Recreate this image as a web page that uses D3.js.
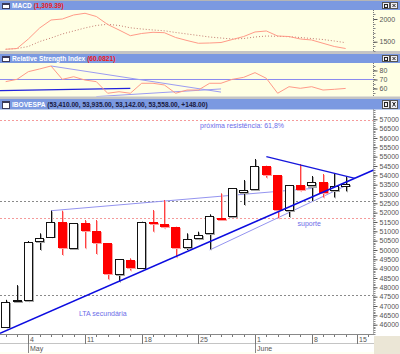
<!DOCTYPE html>
<html>
<head>
<meta charset="utf-8">
<script src="https://cdn.jsdelivr.net/npm/d3@7"></script>
<style>
    body { margin: 0; background: #fff; }
    svg { display: block; font-family: "Liberation Sans", Arial, sans-serif; }
</style>
</head>
<body>
<div id="chart"></div>
<script>

// ---- data ----
const dates = ["Apr 29", "Apr 30",
    "May 4", "May 5", "May 6", "May 7", "May 8",
    "May 11", "May 12", "May 13", "May 14", "May 15",
    "May 18", "May 19", "May 20", "May 21", "May 22",
    "May 25", "May 26", "May 27", "May 28", "May 29",
    "Jun 1", "Jun 2", "Jun 3", "Jun 4", "Jun 5",
    "Jun 8", "Jun 9", "Jun 10", "Jun 12"];
const emptySlots = ["Jun 15", "Jun 16"];

const open  = [45850, 47250, 47280, 50412, 50680, 51515, 50053, 51430, 51017, 50358, 48660, 49464, 49019, 51515, 51392, 51247,
    50090, 50573, 50856, 51713, 51783, 53036, 53213, 54515, 54017, 52115, 53481, 53390, 53626, 53160, 53410];
const high  = [47330, 48120, 50480, 50894, 52104, 52104, 51430, 51606, 51606, 50358, 49501, 49555, 51515, 52142, 52678, 51247,
    50894, 50980, 51912, 53036, 53320, 53749, 54874, 54515, 54017, 53481, 54606, 53963, 54070, 54124, 53935];
const low   = [45850, 47250, 47250, 50000, 50680, 49732, 50053, 50090, 49785, 48430, 48301, 48900, 49019, 50980, 51162, 49608,
    50000, 50573, 50037, 51650, 51783, 52410, 53213, 53872, 51697, 51767, 53150, 52624, 52811, 52811, 53142];
const close = [47230, 47300, 50440, 50626, 51515, 50090, 51430, 51017, 50358, 48714, 49501, 49019, 51515, 51392, 51247, 50090,
    50573, 50803, 51821, 51680, 53320, 53213, 54515, 54017, 52142, 53481, 53213, 53626, 53052, 53410, 53558];

const macdLine   = [1333, 1350, 1559, 1802, 1978, 2000, 2088, 2126, 2055, 1879, 1758, 1632, 1681, 1707, 1698, 1592,
    1526, 1465, 1471, 1482, 1548, 1614, 1714, 1736, 1625, 1614, 1559, 1537, 1465, 1394, 1350];
const macdSignal = [1333, 1350, 1394, 1504, 1581, 1670, 1736, 1802, 1857, 1883, 1857, 1806, 1780, 1758, 1740, 1703,
    1670, 1637, 1603, 1581, 1559, 1570, 1603, 1625, 1619, 1610, 1592, 1570, 1548, 1515, 1478];
const macdTitleValue = "1,309.39";

const rsiValues = [67.6, 70.2, 78.7, 81.7, 85, 70.2, 73.1, 69.4, 67.6, 54.7, 56.4, 54.7, 65.8, 65.8, 63.9, 54.7,
    58.3, 58.3, 65.8, 65.8, 70.2, 72.4, 77.6, 71.3, 54.7, 62, 60.2, 62, 58.3, 59.1, 60.0821];

// axis ticks
const weekTicks  = ["May 4", "May 11", "May 18", "May 25", "Jun 1", "Jun 8", "Jun 15"];
const weekLabels = ["4", "11", "18", "25", "1", "8", "15"];
const monthTicks  = ["May 4", "Jun 1"];
const monthLabels = ["May", "June"];
const priceTicks = [46000, 46500, 47000, 47500, 48000, 48500, 49000, 49500, 50000, 50500, 51000, 51500,
    52000, 52500, 53000, 53500, 54000, 54500, 55000, 55500, 56000, 56500, 57000];
const macdTicks = [1500, 2000];
const rsiTicks = [60, 70, 80];

// drawn studies: [slot index, value]
const ltaLine       = [[-0.5, 45540], [32.47, 54284]];
const resistLine    = [[4, 52104], [27, 53294]];
const triangleTop   = [[23, 55000], [30.82, 53840]];
const supportLine   = [[18, 50000], [30.3, 53524]];
const fiboLevels    = [56960, 51700];
const dottedLevels  = [52600, 47600];
const rsiLevel      = 70;
const rsiDownLine   = [[4, 85], [19, 56]];
const rsiUpLine     = [[8, 51], [19, 59.5]];
const rsiBaseLine   = [[-0.5, 57.6], [11, 60.2]];

// ---- layout ----
const W = 400, H = 354;
const axisX = 373.5;
const barColor = "#7b99e1";
const paleYellow = "#ffffe4";

const slots = dates.concat(emptySlots);
const x = d3.scaleLinear().domain([-0.5, slots.length - 0.5]).range([0, 374]);
const slotX = d => x(slots.indexOf(d));

const macdP = {bar: 1, top: 10, bottom: 51};
const rsiP  = {bar: 54, top: 63, bottom: 96.5};
const mainP = {bar: 99, top: 109.5, bottom: 334};

const yMacd = d3.scaleLinear().domain([1295, 2198]).range([macdP.bottom, macdP.top]);
const yRsi  = d3.scaleLinear().domain([51.1, 88.33]).range([rsiP.bottom, rsiP.top]);
const yMain = d3.scaleLinear().domain([45500, 57525]).range([mainP.bottom, mainP.top]);

const svg = d3.select("#chart").append("svg")
    .attr("width", W)
    .attr("height", H);

// backgrounds and frames
svg.append("rect").attr("width", W).attr("height", H).attr("fill", "#fffff2");
svg.append("rect").attr("x", 0).attr("y", 0).attr("width", W).attr("height", 1).attr("fill", "#b5b5b5");
svg.append("rect").attr("x", 0).attr("y", macdP.top).attr("width", W).attr("height", macdP.bottom - macdP.top).attr("fill", paleYellow);
svg.append("rect").attr("x", 0).attr("y", macdP.bottom).attr("width", W).attr("height", rsiP.bar - macdP.bottom).attr("fill", "#c4c4c4");
svg.append("rect").attr("x", 0).attr("y", rsiP.top).attr("width", W).attr("height", rsiP.bottom - rsiP.top).attr("fill", paleYellow);
svg.append("rect").attr("x", 0).attr("y", rsiP.bottom).attr("width", W).attr("height", mainP.bar - rsiP.bottom).attr("fill", "#c4c4c4");
svg.append("rect").attr("x", 0).attr("y", mainP.top).attr("width", W).attr("height", 352 - mainP.top).attr("fill", "#fff");
svg.append("rect").attr("x", 374).attr("y", 336).attr("width", 26).attr("height", 18).attr("fill", "#ebe6d6");

// clip paths for each panel
function clipFor(id, p) {
    svg.append("clipPath").attr("id", id)
        .append("rect").attr("x", 0).attr("y", p.top).attr("width", axisX).attr("height", p.bottom - p.top);
    return svg.append("g").attr("clip-path", "url(#" + id + ")");
}

// title bars
function titleBar(y0, h, name, value, valueColor) {
    let g = svg.append("g");
    g.append("rect").attr("x", 0).attr("y", y0).attr("width", W).attr("height", h).attr("fill", barColor);
    // window icon
    g.append("rect").attr("x", 2.5).attr("y", y0 + 2.5).attr("width", 7).attr("height", h - 4)
        .attr("fill", "#fff").attr("stroke", "#3a3a5a").attr("stroke-width", 1).attr("shape-rendering", "crispEdges");
    g.append("line").attr("x1", 2.5).attr("x2", 9.5).attr("y1", y0 + 3.5).attr("y2", y0 + 3.5)
        .attr("stroke", "#3a3a5a").attr("shape-rendering", "crispEdges");
    let t = g.append("text").attr("x", 12).attr("y", y0 + h / 2 + 2.4)
        .attr("font-size", "6.6px").attr("font-weight", "bold");
    t.append("tspan").attr("fill", "#fff").text(name + " ");
    t.append("tspan").attr("fill", valueColor).text("(" + value + ")");
    // maximise / close buttons
    [382.5, 390.5].forEach((bx, k) => {
        g.append("rect").attr("x", bx).attr("y", y0 + 1.5).attr("width", 7).attr("height", h - 3)
            .attr("fill", "#eeeef4").attr("stroke", "#555").attr("shape-rendering", "crispEdges");
        if (k === 0) {
            g.append("rect").attr("x", bx + 2).attr("y", y0 + 3).attr("width", 3).attr("height", h - 6)
                .attr("fill", "none").attr("stroke", "#222").attr("shape-rendering", "crispEdges");
        } else {
            g.append("path").attr("d", `M${bx + 2},${y0 + 3}L${bx + 5},${y0 + h - 3}M${bx + 5},${y0 + 3}L${bx + 2},${y0 + h - 3}`)
                .attr("stroke", "#222").attr("stroke-width", 1);
        }
    });
}

const n = dates.length - 1;
const fmt2 = d3.format(",.2f");
titleBar(macdP.bar, macdP.top - macdP.bar, "MACD", macdTitleValue, "#f01818");
titleBar(rsiP.bar, rsiP.top - rsiP.bar, "Relative Strength Index", d3.format(".4f")(rsiValues[n]), "#f01818");
titleBar(mainP.bar, mainP.top - mainP.bar, "IBOVESPA",
    [open[n], high[n], low[n], close[n]].map(fmt2).join(", ") + ", +" + fmt2(close[n] - close[n - 1]), "#1a1a40");

// right axes
function rightAxis(scale, p, majors, minorStep, fmt) {
    let g = svg.append("g").attr("transform", "translate(" + axisX + ",0)");
    g.append("line").attr("x1", 0).attr("x2", 0).attr("y1", p.top).attr("y2", p.bottom)
        .attr("stroke", "#777").attr("stroke-dasharray", "1,1");
    if (minorStep) {
        let lo = scale.domain()[0], hi = scale.domain()[1];
        let minors = d3.range(Math.ceil(lo / minorStep) * minorStep, hi, minorStep);
        g.selectAll(".minor").data(minors).enter().append("line")
            .attr("x1", 0).attr("x2", 2)
            .attr("y1", d => Math.round(scale(d)) + 0.5).attr("y2", d => Math.round(scale(d)) + 0.5)
            .attr("stroke", "#888");
    }
    let ax = d3.axisRight(scale).tickValues(majors).tickSize(4).tickPadding(2).tickFormat(fmt);
    let a = g.append("g").call(ax);
    a.select(".domain").remove();
    a.selectAll("line").attr("stroke", "#555");
    a.selectAll("text").attr("font-size", "7px").attr("fill", "#555").attr("font-family", "Liberation Sans, Arial, sans-serif");
}
rightAxis(yMacd, macdP, macdTicks, 100, d3.format("d"));
rightAxis(yRsi, rsiP, rsiTicks, 5, d3.format("d"));
rightAxis(yMain, mainP, priceTicks, 100, d3.format("d"));

// study line helper
const segLine = (yScale) => d3.line().x(d => x(d[0])).y(d => yScale(d[1]));

// ---- MACD panel ----
let macdG = clipFor("clip-macd", macdP);
let idxLine = d3.line().x((d, i) => x(i)).y(d => yMacd(d));
macdG.append("path").datum(macdSignal).attr("d", idxLine)
    .attr("fill", "none").attr("stroke", "#c27a70").attr("stroke-width", 1).attr("stroke-dasharray", "1,2");
macdG.append("path").datum(macdLine).attr("d", idxLine)
    .attr("fill", "none").attr("stroke", "#ff9a88").attr("stroke-width", 1);

// ---- RSI panel ----
let rsiG = clipFor("clip-rsi", rsiP);
rsiG.append("line").attr("x1", 0).attr("x2", axisX)
    .attr("y1", yRsi(rsiLevel)).attr("y2", yRsi(rsiLevel))
    .attr("stroke", "#8a8aee").attr("stroke-width", 1);
rsiG.append("path").datum(rsiBaseLine).attr("d", segLine(yRsi))
    .attr("fill", "none").attr("stroke", "#2222dd").attr("stroke-width", 1.2);
[rsiDownLine, rsiUpLine].forEach(l => {
    rsiG.append("path").datum(l).attr("d", segLine(yRsi))
        .attr("fill", "none").attr("stroke", "#9c9cf2").attr("stroke-width", 1);
});
rsiG.append("path").datum(rsiValues)
    .attr("d", d3.line().x((d, i) => x(i)).y(d => yRsi(d)))
    .attr("fill", "none").attr("stroke", "#ff9a88").attr("stroke-width", 1);

// ---- main panel ----
let mainG = clipFor("clip-main", mainP);

mainG.selectAll(".fibo").data(fiboLevels).enter().append("line")
    .attr("x1", 0).attr("x2", axisX)
    .attr("y1", d => Math.round(yMain(d)) + 0.5).attr("y2", d => Math.round(yMain(d)) + 0.5)
    .attr("stroke", "#f59a9a").attr("stroke-dasharray", "2,2");
mainG.selectAll(".lvl").data(dottedLevels).enter().append("line")
    .attr("x1", 0).attr("x2", axisX)
    .attr("y1", d => Math.round(yMain(d)) + 0.5).attr("y2", d => Math.round(yMain(d)) + 0.5)
    .attr("stroke", "#8a8a8a").attr("stroke-dasharray", "2,2");

// light study lines behind candles
[resistLine, supportLine].forEach(l => {
    mainG.append("path").datum(l).attr("d", segLine(yMain))
        .attr("fill", "none").attr("stroke", "#9494f0").attr("stroke-width", 1);
});

// candles
const candles = dates.map((d, i) => ({i: i, o: open[i], h: high[i], l: low[i], c: close[i]}));
const bodyW = 9;

let cg = mainG.selectAll(".candle").data(candles).enter().append("g").attr("class", "candle");
cg.each(function (d) {
    let g = d3.select(this);
    let up = d.c >= d.o;
    let cx = Math.round(x(d.i)) + 0.5;
    let top = yMain(Math.max(d.o, d.c)), bot = yMain(Math.min(d.o, d.c));
    let hgt = Math.max(1.5, bot - top);
    // wick with shadow
    g.append("line").attr("x1", cx + 1).attr("x2", cx + 1).attr("y1", yMain(d.h) + 1).attr("y2", yMain(d.l) + 1)
        .attr("stroke", up ? "#b0b0b0" : "#ffb4b4");
    g.append("line").attr("x1", cx).attr("x2", cx).attr("y1", yMain(d.h)).attr("y2", yMain(d.l))
        .attr("stroke", up ? "#111" : "#ff4040");
    // body with shadow
    let bx = Math.round(x(d.i) - bodyW / 2);
    g.append("rect").attr("x", bx + 1).attr("y", top + 1).attr("width", bodyW).attr("height", hgt)
        .attr("fill", up ? "#a8a8a8" : "#ffa0a0").attr("shape-rendering", "crispEdges");
    if (up) {
        g.append("rect").attr("x", bx + 0.5).attr("y", Math.round(top) + 0.5).attr("width", bodyW - 1)
            .attr("height", Math.max(1, Math.round(hgt) - 1))
            .attr("fill", "#fff").attr("stroke", "#111").attr("stroke-width", 1).attr("shape-rendering", "crispEdges");
    } else {
        g.append("rect").attr("x", bx).attr("y", top).attr("width", bodyW).attr("height", hgt)
            .attr("fill", "#ff0000").attr("shape-rendering", "crispEdges");
    }
});

// dark trend lines on top
mainG.append("path").datum(ltaLine).attr("d", segLine(yMain))
    .attr("fill", "none").attr("stroke", "#0c0ce0").attr("stroke-width", 1.6);
mainG.append("path").datum(triangleTop).attr("d", segLine(yMain))
    .attr("fill", "none").attr("stroke", "#1616dc").attr("stroke-width", 1.3);

// annotations
const noteColor = "#6c6ce8";
mainG.append("text").attr("x", x(17.15)).attr("y", yMain(56657) + 2.5)
    .attr("font-size", "7px").attr("fill", noteColor).text("próxima resistência: 61,8%");
mainG.append("text").attr("x", x(25.75)).attr("y", yMain(51430) + 2.5)
    .attr("font-size", "7px").attr("fill", noteColor).text("suporte");
mainG.append("text").attr("x", x(6.47)).attr("y", yMain(46572) + 2.5)
    .attr("font-size", "7px").attr("fill", noteColor).text("LTA secundária");

// ---- date axis ----
let xg = svg.append("g").attr("shape-rendering", "crispEdges");
xg.append("line").attr("x1", 0).attr("x2", axisX).attr("y1", 334.5).attr("y2", 334.5).attr("stroke", "#888");
xg.append("line").attr("x1", 0).attr("x2", axisX).attr("y1", 343.5).attr("y2", 343.5).attr("stroke", "#c4c4c4");
xg.selectAll(".minor").data(slots).enter().append("line")
    .attr("x1", d => Math.round(slotX(d)) + 0.5).attr("x2", d => Math.round(slotX(d)) + 0.5)
    .attr("y1", 334.5).attr("y2", 337).attr("stroke", "#777");
xg.selectAll(".week").data(weekTicks).enter().append("line")
    .attr("x1", d => Math.round(slotX(d)) + 0.5).attr("x2", d => Math.round(slotX(d)) + 0.5)
    .attr("y1", 334.5).attr("y2", 343.5).attr("stroke", "#777");
xg.selectAll(".wlabel").data(weekTicks).enter().append("text")
    .attr("x", d => Math.round(slotX(d)) + 2).attr("y", 341.5)
    .attr("font-size", "7px").attr("fill", "#555")
    .text((d, k) => weekLabels[k]);
xg.selectAll(".month").data(monthTicks).enter().append("line")
    .attr("x1", d => Math.round(slotX(d)) + 0.5).attr("x2", d => Math.round(slotX(d)) + 0.5)
    .attr("y1", 343.5).attr("y2", 353).attr("stroke", "#888");
xg.selectAll(".mlabel").data(monthTicks).enter().append("text")
    .attr("x", d => Math.round(slotX(d)) + 2).attr("y", 351)
    .attr("font-size", "7px").attr("fill", "#555")
    .text((d, k) => monthLabels[k]);

</script>
</body>
</html>
